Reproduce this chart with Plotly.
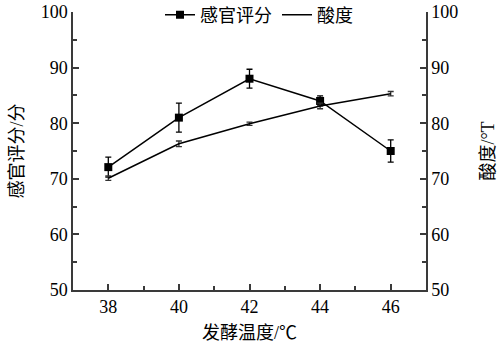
import plotly.graph_objects as go

temps = [38, 40, 42, 44, 46]
sensory = [72.1, 81.0, 88.0, 84.0, 75.0]
sensory_err = [1.8, 2.6, 1.7, 0.9, 2.0]
acidity = [70.1, 76.3, 79.9, 83.1, 85.3]
acidity_err = [0.4, 0.5, 0.3, 0.5, 0.4]

xticks = [38, 40, 42, 44, 46]
yticks = [50, 60, 70, 80, 90, 100]

FONT = "Liberation Serif, Times New Roman, Noto Sans CJK SC, serif"
AX = "#3a3a3a"

fig = go.Figure()
fig.add_trace(go.Scatter(
    x=temps, y=sensory, name="感官评分", mode="lines+markers",
    line=dict(color="black", width=1.5),
    marker=dict(symbol="square", size=8, color="black"),
    error_y=dict(type="data", array=sensory_err, color="black", thickness=1.3, width=3),
))
fig.add_trace(go.Scatter(
    x=temps, y=acidity, name="酸度", mode="lines", yaxis="y2",
    line=dict(color="black", width=1.5),
    error_y=dict(type="data", array=acidity_err, color="#333", thickness=1.3, width=3),
))

common = dict(showgrid=False, zeroline=False, showline=True, linecolor=AX, linewidth=1.5,
              ticks="inside", ticklen=6, tickwidth=1.5, tickcolor=AX, automargin=False,
              tickfont=dict(family=FONT, size=18, color="black"))

fig.update_layout(
    width=501, height=359,
    margin=dict(l=73, r=75, t=12, b=69, autoexpand=False),
    paper_bgcolor="white", plot_bgcolor="white",
    font=dict(family=FONT, color="black"),
    xaxis=dict(range=[37, 47], tickvals=xticks,
               minor=dict(ticks="inside", ticklen=4, tickwidth=1.5, tickcolor=AX, dtick=1),
               title=dict(text="发酵温度/℃", font=dict(family=FONT, size=18), standoff=10),
               **common),
    yaxis=dict(range=[50, 100], tickvals=yticks,
               minor=dict(ticks="inside", ticklen=4, tickwidth=1.5, tickcolor=AX, dtick=5),
               title=dict(text="感官评分/分", font=dict(family=FONT, size=18), standoff=12),
               **common),
    yaxis2=dict(range=[50, 100], tickvals=yticks, overlaying="y", side="right",
                minor=dict(ticks="inside", ticklen=4, tickwidth=1.5, tickcolor=AX, dtick=5),
                title=dict(text="酸度/°T", font=dict(family=FONT, size=18), standoff=24),
                **common),
    legend=dict(orientation="h", x=259 / 501, xanchor="center", xref="container",
                y=1 - 15 / 359, yanchor="middle", yref="container",
                font=dict(family=FONT, size=18), bgcolor="rgba(0,0,0,0)",
                itemwidth=30, tracegroupgap=0),
    showlegend=True,
)

fig.write_html("out.html", config={"displayModeBar": False},
               post_script="document.body.style.margin='0';")
